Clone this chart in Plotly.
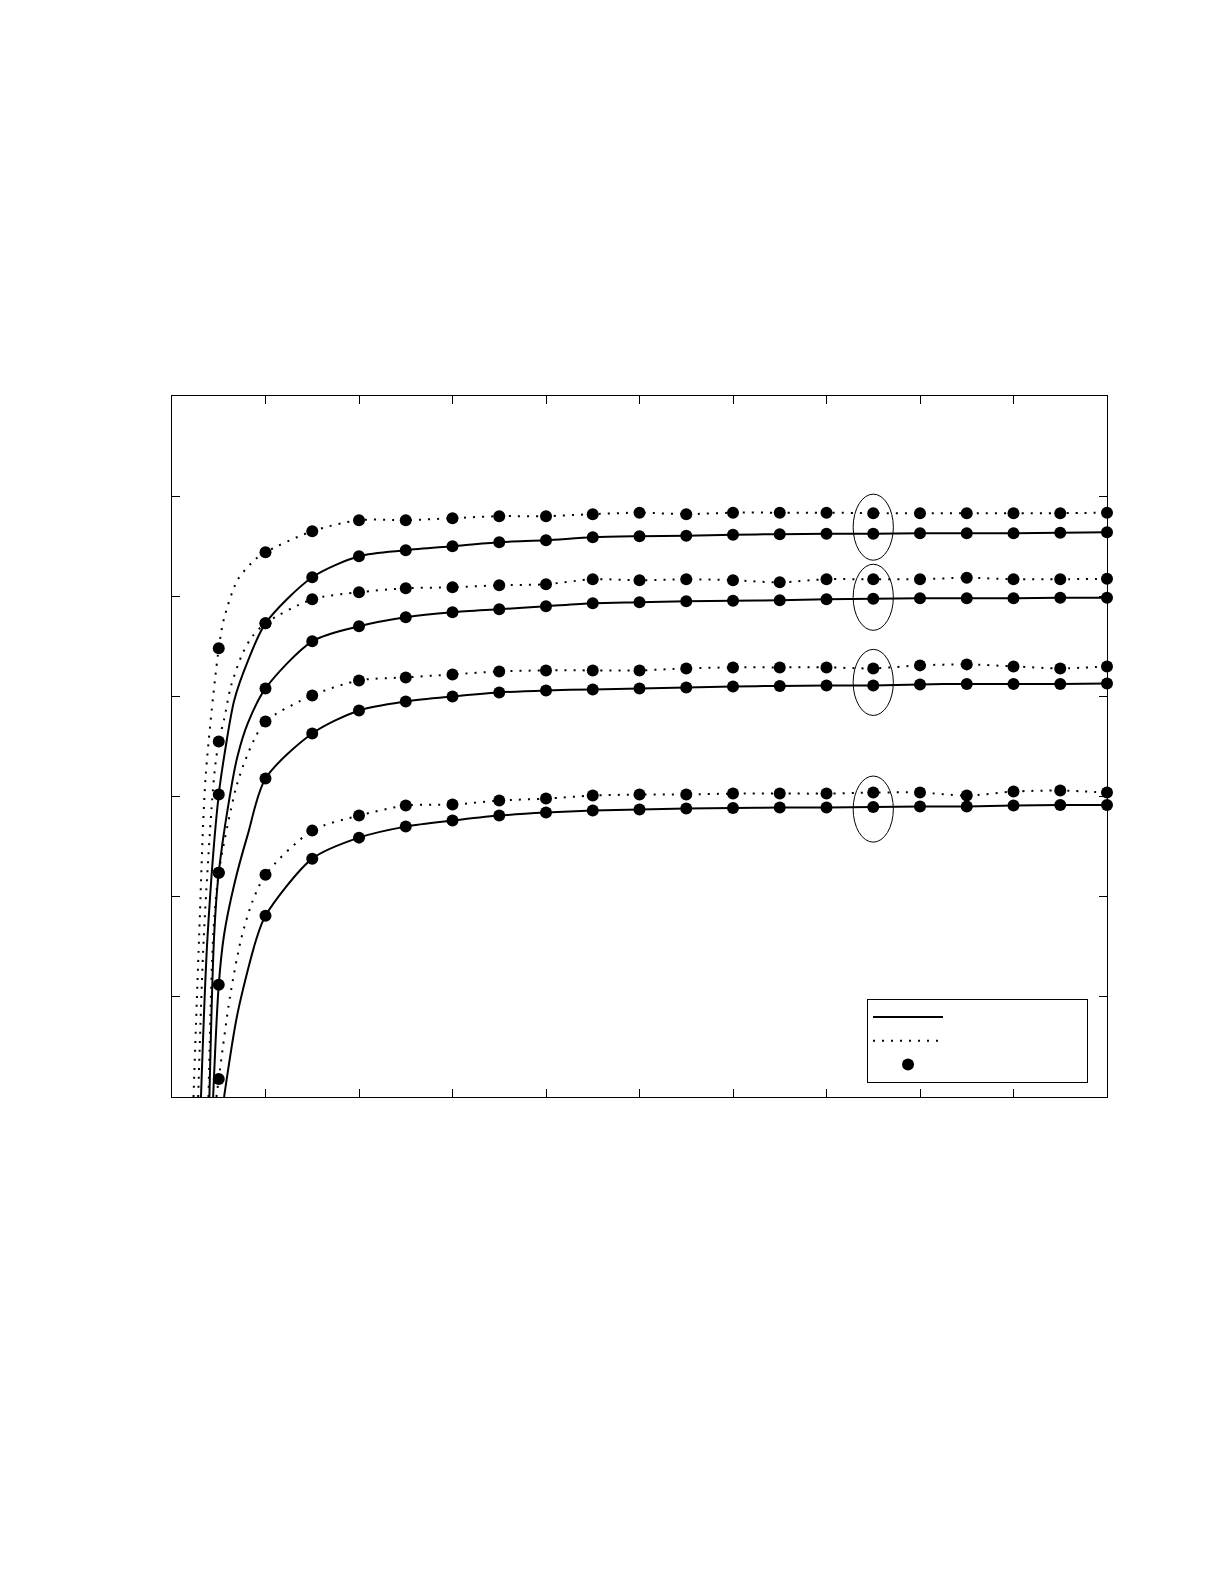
import plotly.graph_objects as go

# marker grid (x) and values
x_grid = [0.5, 1.0, 1.5, 2.0, 2.5, 3.0, 3.5, 4.0, 4.5, 5.0,
          5.5, 6.0, 6.5, 7.0, 7.5, 8.0, 8.5, 9.0, 9.5, 10.0]

# dotted curves
dot1 = [4.48, 5.44, 5.65, 5.76, 5.76, 5.78, 5.80, 5.80, 5.82, 5.835,
        5.82, 5.835, 5.835, 5.835, 5.83, 5.83, 5.83, 5.83, 5.83, 5.835]
dot2 = [3.55, 4.73, 4.97, 5.04, 5.08, 5.09, 5.11, 5.12, 5.17, 5.16,
        5.17, 5.16, 5.14, 5.17, 5.17, 5.17, 5.185, 5.17, 5.17, 5.175]
dot3 = [2.24, 3.75, 4.01, 4.16, 4.19, 4.22, 4.25, 4.26, 4.26, 4.26,
        4.28, 4.29, 4.29, 4.29, 4.28, 4.31, 4.32, 4.30, 4.28, 4.30]
dot4 = [0.18, 2.22, 2.66, 2.81, 2.91, 2.92, 2.96, 2.98, 3.01, 3.02,
        3.02, 3.03, 3.03, 3.03, 3.04, 3.04, 3.01, 3.05, 3.06, 3.04]

# solid curves
sol1 = [3.02, 4.73, 5.19, 5.40, 5.46, 5.50, 5.54, 5.56, 5.59, 5.60,
        5.605, 5.615, 5.62, 5.625, 5.625, 5.63, 5.63, 5.63, 5.635, 5.64]
sol2 = [2.24, 4.08, 4.55, 4.70, 4.79, 4.84, 4.87, 4.90, 4.93, 4.94,
        4.95, 4.955, 4.96, 4.97, 4.975, 4.98, 4.98, 4.98, 4.985, 4.985]
sol3 = [1.12, 3.18, 3.63, 3.86, 3.95, 4.00, 4.04, 4.06, 4.07, 4.08,
        4.09, 4.10, 4.105, 4.11, 4.11, 4.12, 4.125, 4.125, 4.125, 4.13]
sol4 = [None, 1.81, 2.38, 2.59, 2.70, 2.76, 2.81, 2.84, 2.86, 2.87,
        2.88, 2.885, 2.89, 2.89, 2.895, 2.90, 2.90, 2.91, 2.915, 2.915]

# extra points on the steep part of each curve (between markers)
dot1_ex_x = [0.23, 0.29, 0.36, 0.557, 0.70, 0.88]
dot1_ex_y = [0.0, 1.6, 3.2, 4.78, 5.16, 5.36]
dot2_ex_x = [0.28, 0.34, 0.45, 0.557, 0.63, 0.755, 0.86]
dot2_ex_y = [0.0, 1.6, 3.2, 3.77, 4.10, 4.43, 4.60]
dot3_ex_x = [0.39, 0.44, 0.68, 0.77, 0.88]
dot3_ex_y = [0.0, 1.6, 3.07, 3.33, 3.57]
dot4_ex_x = [0.475, 0.62, 0.74, 0.86]
dot4_ex_y = [0.0, 1.0, 1.58, 1.95]
sol1_ex_x = [0.31, 0.38, 0.575, 0.665, 0.81]
sol1_ex_y = [0.0, 1.6, 3.50, 3.96, 4.35]
sol2_ex_x = [0.40, 0.45, 0.63, 0.70, 0.81]
sol2_ex_y = [0.0, 1.6, 3.07, 3.40, 3.73]
sol3_ex_x = [0.44, 0.557, 0.665, 0.81]
sol3_ex_y = [0.0, 1.62, 2.12, 2.62]
sol4_ex_x = [0.557, 0.70, 0.90]
sol4_ex_y = [0.0, 0.83, 1.57]

# ellipses around the x = 7.5 markers
ell_x = 7.5
ell_y = [5.69, 4.99, 4.14, 2.875]

dotted = [(dot1, dot1_ex_x, dot1_ex_y), (dot2, dot2_ex_x, dot2_ex_y),
          (dot3, dot3_ex_x, dot3_ex_y), (dot4, dot4_ex_x, dot4_ex_y)]
solid = [(sol1, sol1_ex_x, sol1_ex_y), (sol2, sol2_ex_x, sol2_ex_y),
         (sol3, sol3_ex_x, sol3_ex_y), (sol4, sol4_ex_x, sol4_ex_y)]


def merged(vals, ex_x, ex_y):
    pts = [(x, y) for x, y in zip(x_grid, vals) if y is not None]
    pts += list(zip(ex_x, ex_y))
    pts.sort()
    return [p[0] for p in pts], [p[1] for p in pts]


blank = "\u00a0" * 30
fig = go.Figure()

for i, (vals, ex_x, ex_y) in enumerate(solid):
    xs, ys = merged(vals, ex_x, ex_y)
    fig.add_trace(go.Scatter(
        x=xs, y=ys, mode="lines", name=blank,
        line=dict(color="black", width=2, shape="spline", smoothing=0.8),
        legendgroup="solid", showlegend=(i == 0)))

for i, (vals, ex_x, ex_y) in enumerate(dotted):
    xs, ys = merged(vals, ex_x, ex_y)
    fig.add_trace(go.Scatter(
        x=xs, y=ys, mode="lines", name=blank,
        line=dict(color="black", width=2, dash="2px,7px", shape="spline", smoothing=0.8),
        legendgroup="dotted", showlegend=(i == 0)))

for i, vals in enumerate([dot1, sol1, dot2, sol2, dot3, sol3, dot4, sol4]):
    fig.add_trace(go.Scatter(
        x=x_grid, y=vals, mode="markers", name=blank,
        marker=dict(color="black", size=12),
        cliponaxis=False,
        legendgroup="markers", showlegend=(i == 0)))

for yc in ell_y:
    fig.add_shape(type="circle", xref="x", yref="y",
                  x0=ell_x - 0.215, x1=ell_x + 0.215,
                  y0=yc - 0.33, y1=yc + 0.33,
                  line=dict(color="black", width=1))

axis_style = dict(showgrid=False, zeroline=False, showline=True, linecolor="black",
                  linewidth=1, mirror="ticks", ticks="inside", ticklen=8,
                  tickcolor="black", tickwidth=1, showticklabels=False)

fig.update_xaxes(range=[0, 10], dtick=1, **axis_style)
fig.update_yaxes(range=[0, 7], dtick=1, **axis_style)

fig.update_layout(
    width=1209, height=1569,
    margin=dict(l=164, r=110, t=388, b=480),
    paper_bgcolor="white", plot_bgcolor="white",
    font=dict(family="Liberation Sans, Arial", size=16, color="black"),
    legend=dict(x=0.9797, y=0.02, xanchor="right", yanchor="bottom",
                bgcolor="white", bordercolor="black", borderwidth=1,
                itemwidth=70,
                tracegroupgap=0, traceorder="normal"),
)

fig.write_html("out.html")
